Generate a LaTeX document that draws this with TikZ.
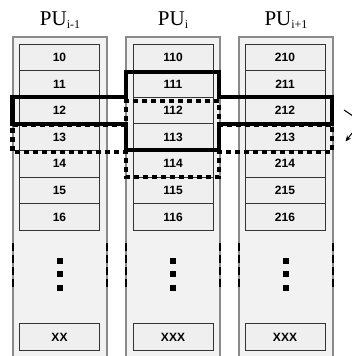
\documentclass[tikz,border=0pt]{standalone}
\usepackage{fontspec}
\setmainfont{Liberation Serif}
\newfontfamily\cellfont{Liberation Sans}
\usetikzlibrary{arrows.meta}
\definecolor{colfill}{HTML}{F2F2F2}
\definecolor{cellfill}{HTML}{EFEFEF}
\definecolor{colline}{HTML}{8A8A8A}
\tikzset{
  colbox/.style={draw=colline, fill=colfill, line width=1.6pt},
  cellbox/.style={draw=black!80, fill=cellfill, line width=1pt, minimum width=80pt, minimum height=26.6pt, inner sep=0pt, font=\cellfont\bfseries\fontsize{12}{12}\selectfont},
  lbl/.style={anchor=base, inner sep=0pt, font=\fontsize{21}{21}\selectfont},
  solidwin/.style={line width=4.5pt, line join=miter, black},
  dotwin/.style={line width=4.5pt, dash pattern=on 5pt off 4pt, black},
  brk/.style={black, line width=1.5pt, dash pattern=on 8pt off 4pt},
  sq/.style={fill=black, minimum size=6pt, inner sep=0pt},
}
\newcommand{\sub}[1]{\raisebox{-0.35ex}{\fontsize{12}{12}\selectfont #1}}
\begin{document}
\begin{tikzpicture}[x=1pt,y=-1pt]
\useasboundingbox (0,0) rectangle (352,356);
\clip (0,0) rectangle (352,356);
% columns
\foreach \cx/\nm in {60/A,173/B,286/C}{
  \path[colbox] (\cx-47,37) rectangle (\cx+47,362);
  \draw[brk] (\cx-47,243) -- (\cx-47,289);
  \draw[brk] (\cx+47,243) -- (\cx+47,289);
  \node[sq] (\nm d1) at (\cx-0.5,260.5) {};
  \node[sq] (\nm d2) at (\cx-0.5,274) {};
  \node[sq] (\nm d3) at (\cx-0.5,287.5) {};
}
\node[lbl] (L1) at (60,25) {PU\sub{i-1}};
\node[lbl] (L2) at (173,25) {PU\sub{i}};
\node[lbl] (L3) at (286,25) {PU\sub{i+1}};
% cells
\foreach \cx/\p/\nm in {59.5/1/A,173/11/B,285/21/C}{
  \foreach \r in {0,...,6}{
    \node[cellbox] (\nm\r) at (\cx,{44+26.6*\r+13.3}) {\p\r};
  }
}
\node[cellbox] (Ax) at (59.5,337) {XX};
\node[cellbox] (Bx) at (173,337) {XXX};
\node[cellbox] (Cx) at (285,337) {XXX};
% dotted window
\draw[dotwin] (12.5,124.5) -- (126,124.5) -- (126,101) -- (219,101) -- (219,124.5) -- (332,124.5)
  -- (332,152) -- (219,152) -- (219,177) -- (126,177) -- (126,152) -- (12.5,152) -- cycle;
% solid window
\draw[solidwin] (12.5,97) -- (126,97) -- (126,72) -- (219,72) -- (219,97) -- (332,97)
  -- (332,124) -- (219,124) -- (219,150) -- (126,150) -- (126,124) -- (12.5,124) -- cycle;
% partial arrows at right edge
\coordinate (p1) at (344,110);
\coordinate (p2) at (353,116);
\draw[line width=1pt] (p1) -- (p2);
\coordinate (q1) at (353,132);
\coordinate (q2) at (345.5,141.5);
\draw[line width=1pt, -{Stealth[length=6pt,width=5pt]}] (q1) -- (q2);
\end{tikzpicture}
\end{document}
